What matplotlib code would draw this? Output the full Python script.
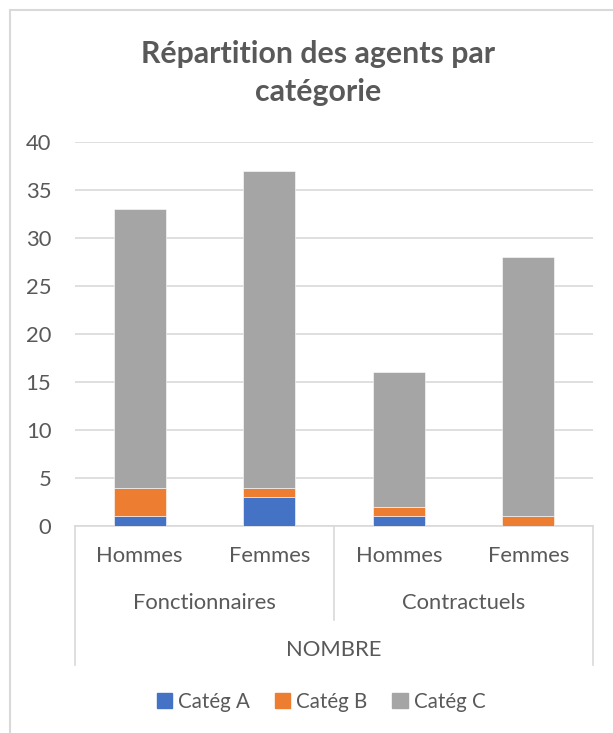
import matplotlib.pyplot as plt
import matplotlib.transforms as mtransforms
from matplotlib.patches import Patch, Rectangle
import numpy as np

##DATA
sexes = ['Hommes', 'Femmes', 'Hommes', 'Femmes']
statuts = ['Fonctionnaires', 'Contractuels']
top_label = 'NOMBRE'
categ_a = [1, 3, 1, 0]
categ_b = [3, 1, 1, 1]
categ_c = [29, 33, 14, 27]
series_names = ['Catég A', 'Catég B', 'Catég C']
colors = ['#4472C4', '#ED7D31', '#A5A5A5']

TXT = '#595959'
GRID = '#D9D9D9'
plt.rcParams['font.family'] = ['Lato', 'DejaVu Sans']

##PLOT
fig = plt.figure(figsize=(6.13, 7.33), dpi=100)
ax = fig.add_axes([75 / 613, 1 - 526 / 733, 518 / 613, 384.3 / 733])

x = np.arange(len(sexes))
bottom = np.zeros(len(sexes))
for vals, name, col in zip([categ_a, categ_b, categ_c], series_names, colors):
    ax.bar(x, vals, 0.4, bottom=bottom, color=col, label=name,
           edgecolor='white', linewidth=0.4, zorder=3)
    bottom += np.array(vals)

ax.set_ylim(0, 40)
ax.set_xlim(-0.5, len(sexes) - 0.5)
ax.set_yticks(range(0, 41, 5))
ax.tick_params(axis='y', length=0, labelsize=15.8, labelcolor=TXT, pad=17)
ax.set_xticks([])
ax.yaxis.grid(True, color=GRID, linewidth=1.2)
ax.set_axisbelow(True)
for s in ['top', 'right', 'left']:
    ax.spines[s].set_visible(False)
ax.spines['bottom'].set_color(GRID)
ax.spines['bottom'].set_linewidth(1.2)

# multi-level category axis
trans = mtransforms.blended_transform_factory(ax.transData, ax.transAxes)
for xv in [-0.5, len(sexes) - 0.5]:
    ax.plot([xv, xv], [0, -0.362], transform=trans, color=GRID, lw=1.2, clip_on=False)
ax.plot([1.5, 1.5], [0, -0.245], transform=trans, color=GRID, lw=1.2, clip_on=False)

for i, lab in enumerate(sexes):
    ax.text(i, -0.078, lab, transform=trans, ha='center', va='center', fontsize=15.8, color=TXT)
for j, lab in enumerate(statuts):
    ax.text(2 * j + 0.5, -0.200, lab, transform=trans, ha='center', va='center', fontsize=15.8, color=TXT)
ax.text(1.5, -0.323, top_label, transform=trans, ha='center', va='center', fontsize=15.8, color=TXT)

# title
fig.text(318 / 613, 1 - 73 / 733, 'Répartition des agents par\ncatégorie', ha='center', va='center',
         fontsize=21.8, fontweight='bold', color=TXT, linespacing=1.4)

# legend
handles = [Patch(color=c, label=n) for c, n in zip(colors, series_names)]
fig.legend(handles=handles, loc='center', bbox_to_anchor=(321 / 613, 1 - 702 / 733), ncol=3,
           frameon=False, fontsize=14.8, labelcolor=TXT, handlelength=0.75, handleheight=0.75,
           handletextpad=0.3, columnspacing=1.2)

# chart border
fig.patches.append(Rectangle((10 / 613, -0.1), 1.2, 1 - 10 / 733 + 0.1, transform=fig.transFigure,
                             fill=False, edgecolor=GRID, linewidth=1.5))

plt.savefig('out.png', dpi=100)
